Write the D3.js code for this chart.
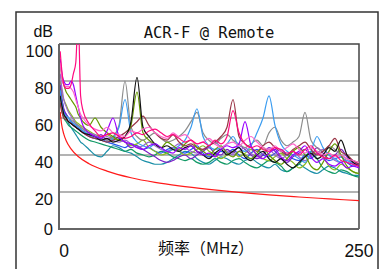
<!DOCTYPE html>
<html><head><meta charset="utf-8">
<script src="https://cdn.jsdelivr.net/npm/d3@7"></script>
<style>html,body{margin:0;padding:0;background:#fff;}svg{display:block;}</style>
</head><body>
<script>
const title = "ACR-F @ Remote";
const yUnit = "dB";
const xLabel = "频率（MHz）";
const yTicks = [0, 20, 40, 60, 80, 100];
const xTicks = [0, 250];
const freqs = [1,2,3,4,6,8,10,12,14,16,18,20,25,30,35,40,45,50,55,60,65,70,75,80,85,90,95,100,105,110,115,120,125,130,135,140,145,150,155,160,165,170,175,180,185,190,195,200,205,210,215,220,225,230,235,240,245,250];
const seriesColors = ["#1a8fa8","#119966","#2255ee","#88bb22","#7a1fc8","#9966cc","#8c8c8c","#3a9cf0","#993344","#669900","#111111","#9900ff","#ff66cc","#ff0a7f"];
const sTeal   = [76,72,68,64,60,57,55,53,51,49,47,46, 43,40,39,42,45,44,42,41,39,37,36,35,35,36,38,40,42,41,38,36,35,37,39,38,36,35,37,38,36,34,33,35,32,31,33,35,33,31,30,32,34,33,31,30,29,29];
const sGreen  = [70,66,62,60,58,56,55,54,53,52,51,50, 48,47,46,45,44,43,42,43,41,40,39,40,42,41,39,38,37,38,36,35,36,38,36,35,37,38,36,34,33,35,37,36,34,31,33,35,39,42,38,33,31,30,32,31,29,28];
const sBlue   = [74,70,67,64,62,60,58,57,56,55,54,53, 51,50,49,47,46,45,44,46,45,43,44,42,41,43,44,42,41,43,45,41,39,40,42,41,43,40,38,41,43,40,39,41,43,40,38,37,40,38,41,39,37,38,39,36,34,35];
const sLime   = [80,76,72,70,67,64,62,60,58,57,56,55, 53,51,50,51,49,48,47,45,46,48,44,42,40,41,43,42,40,41,43,45,42,40,38,40,42,39,41,43,40,38,37,39,41,38,36,33,35,40,42,39,34,32,35,33,31,30];
const sViolet = [78,72,68,65,62,60,58,56,55,54,53,52, 50,49,51,48,50,49,47,44,45,43,41,39,37,36,37,39,40,38,40,42,44,41,40,43,41,45,43,40,38,40,44,42,38,36,39,41,43,40,44,41,38,40,43,39,36,35];
const sLilac  = [84,78,74,70,66,63,61,59,57,56,55,54, 52,51,49,50,48,47,48,46,44,45,47,45,43,42,44,46,44,42,41,43,45,47,44,42,40,42,44,41,39,41,43,40,38,40,42,39,37,39,41,43,40,37,36,38,35,34];
const sGray   = [70,66,64,62,61,60,59,58,57,56,55,54, 52,50,49,48,50,56,80,55,50,48,50,52,49,47,48,50,53,58,63,52,48,46,49,51,48,46,44,46,48,45,52,55,48,45,47,50,63,48,44,42,45,43,40,38,37,36];
const sSky    = [75,70,66,63,61,60,58,57,56,55,54,53, 51,49,48,47,49,55,70,52,47,45,44,46,44,42,43,45,48,55,65,50,45,43,44,46,50,44,42,45,52,60,72,56,46,42,40,38,36,42,50,44,40,38,36,37,35,34];
const sBrown  = [68,64,62,60,59,58,57,56,55,54,53,52, 50,49,48,47,48,50,52,55,58,61,56,52,49,48,51,47,45,46,44,43,45,47,50,55,70,50,46,44,42,45,47,44,42,40,43,45,47,43,40,42,45,49,42,40,37,35];
const sOlive  = [90,84,80,78,74,72,70,68,66,62,60,58, 56,60,55,52,50,48,50,56,74,52,48,46,44,47,45,43,46,48,44,42,40,43,45,41,39,42,40,38,41,44,40,37,35,38,42,44,40,34,32,36,42,46,40,34,31,30];
const sBlack  = [72,68,65,62,60,58,57,56,55,54,53,52, 51,50,48,49,47,48,50,58,82,55,50,46,44,45,43,42,44,45,42,40,38,41,43,40,42,44,39,37,40,42,38,36,38,35,33,36,39,41,38,40,44,42,48,40,36,34];
const sPurple = [92,86,82,80,78,78,80,78,72,66,60,56, 52,50,49,53,60,50,47,46,44,43,45,46,44,42,41,44,43,45,42,40,41,39,43,45,44,46,58,45,40,38,41,43,39,37,40,42,45,39,36,38,35,34,36,33,34,33];
const sPink   = [90,84,80,78,77,77,76,74,70,66,62,60, 56,54,53,55,52,51,50,53,52,54,55,52,50,49,52,50,51,48,46,47,49,46,44,46,47,45,48,50,47,44,43,45,42,44,46,43,41,44,42,40,41,39,40,38,37,36];
const sMagenta= [96,88,82,78,76,76,78,84,90,115,72,64, 57,53,50,51,52,50,49,50,52,51,53,54,52,50,51,49,47,48,46,47,45,48,46,50,64,52,46,44,45,43,42,44,43,41,42,40,43,45,41,39,38,40,37,36,35,34];
const seriesValues = [sTeal,sGreen,sBlue,sLime,sViolet,sLilac,sGray,sSky,sBrown,sOlive,sBlack,sPurple,sPink,sMagenta];
const limitFreqs  = [1,2,4,6,10,16,25,40,60,80,100,125,150,175,200,225,250];
const limitValues = [63.3,57.3,51.3,47.7,43.3,39.2,35.3,31.3,27.7,25.2,23.3,21.4,19.8,18.4,17.3,16.3,15.3];
const limitColor = "#ff1a1a";

const W = 385, H = 269;
const m = {left: 59, top: 44, right: 359, bottom: 229};
const svg = d3.select("body").append("svg").attr("width", W).attr("height", H);

svg.append("rect").attr("x", 16).attr("y", 12).attr("width", 362).attr("height", 280)
  .attr("fill", "none").attr("stroke", "#333").attr("stroke-width", 1.5);

const x = d3.scaleLinear().domain([0, 250]).range([m.left, m.right]);
const y = d3.scaleLinear().domain([0, 100]).range([m.bottom, m.top]);

svg.append("g").selectAll("line").data(yTicks.filter(v => v > 0 && v < 100)).join("line")
  .attr("x1", m.left).attr("x2", m.right).attr("y1", d => y(d)).attr("y2", d => y(d))
  .attr("stroke", "#9a9a9a").attr("stroke-width", 1.5);

svg.append("path").attr("d", `M${m.left},${m.top}H${m.right}V${m.bottom}`)
  .attr("fill", "none").attr("stroke", "#444").attr("stroke-width", 1.5);

svg.append("defs").append("clipPath").attr("id", "clip").append("rect")
  .attr("x", m.left).attr("y", m.top).attr("width", m.right - m.left).attr("height", m.bottom - m.top);

const gl = svg.append("g").attr("clip-path", "url(#clip)");
const line = d3.line().x((d, i) => x(freqs[i])).y(d => y(d)).curve(d3.curveMonotoneX);
seriesValues.forEach((vals, k) => {
  gl.append("path").attr("d", line(vals)).attr("fill", "none")
    .attr("stroke", seriesColors[k]).attr("stroke-width", 1.2);
});
const limLine = d3.line().x((d, i) => x(limitFreqs[i])).y(d => y(d)).curve(d3.curveMonotoneX);
gl.append("path").attr("d", limLine(limitValues)).attr("fill", "none")
  .attr("stroke", limitColor).attr("stroke-width", 1.2);

svg.append("path").attr("d", `M${m.left},${m.top}V${m.bottom}H${m.right}`)
  .attr("fill", "none").attr("stroke", "#666").attr("stroke-width", 2);

const fontSans = "'Liberation Sans', Arial, sans-serif";
svg.append("g").selectAll("text").data(yTicks).join("text")
  .attr("x", 53).attr("y", d => y(d) + (d === 0 ? 0 : 7))
  .attr("dy", "0.36em").attr("text-anchor", "end")
  .attr("font-family", fontSans).attr("font-size", 16.5).attr("fill", "#111")
  .text(d => d);

svg.append("text").attr("x", 53).attr("y", 37).attr("text-anchor", "end")
  .attr("font-family", fontSans).attr("font-size", 16).attr("fill", "#111").text(yUnit);

svg.append("g").selectAll("text").data(xTicks).join("text")
  .attr("x", d => d === 0 ? x(d) + 5 : x(d)).attr("y", 257).attr("text-anchor", "middle")
  .attr("font-family", fontSans).attr("font-size", 17.5).attr("fill", "#111")
  .text(d => d);

svg.append("text").attr("x", 206).attr("y", 254).attr("text-anchor", "middle")
  .attr("font-family", "'Noto Sans CJK SC', sans-serif").attr("font-size", 16).attr("fill", "#111")
  .text(xLabel);

svg.append("text").attr("x", 209).attr("y", 38).attr("text-anchor", "middle")
  .attr("font-family", "'DejaVu Sans Mono', monospace").attr("font-size", 15.5).attr("fill", "#111")
  .text(title);
</script>
</body></html>
